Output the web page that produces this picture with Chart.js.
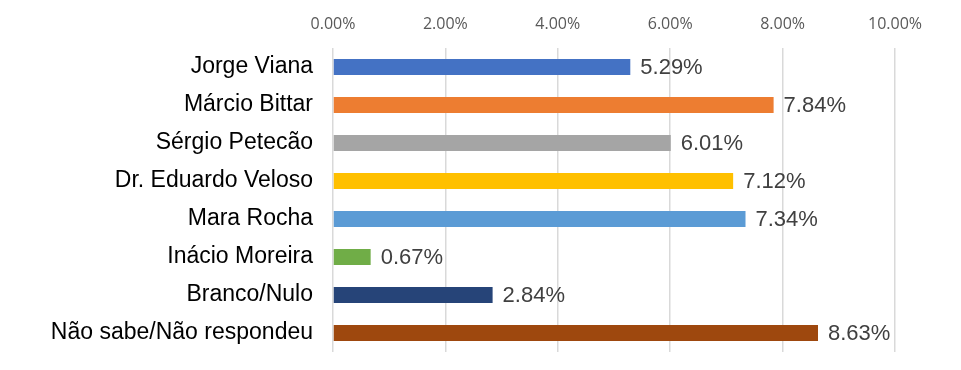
<!DOCTYPE html>
<html>
<head>
<meta charset="utf-8">
<script src="https://cdn.jsdelivr.net/npm/chart.js@4/dist/chart.umd.min.js"></script>
<style>
  html, body { margin: 0; padding: 0; background: #fff; }
  .chartBox { width: 961px; height: 370px; }
</style>
</head>
<body>
<div class="chartBox">
  <canvas id="chart"></canvas>
</div>
<script>
const categories = [
  "Jorge Viana",
  "Márcio Bittar",
  "Sérgio Petecão",
  "Dr. Eduardo Veloso",
  "Mara Rocha",
  "Inácio Moreira",
  "Branco/Nulo",
  "Não sabe/Não respondeu",
];
const values = [5.29, 7.84, 6.01, 7.12, 7.34, 0.67, 2.84, 8.63];
const barColors = [
  "#4472C4",
  "#ED7D31",
  "#A5A5A5",
  "#FFC000",
  "#5B9BD5",
  "#70AD47",
  "#264478",
  "#9E480E",
];
const tickValues = [0, 2, 4, 6, 8, 10];

const fmt = (v) => v.toFixed(2) + "%";

// value labels just past the end of each bar
const barValueLabels = {
  id: "barValueLabels",
  afterDatasetsDraw(chart) {
    const { ctx } = chart;
    ctx.save();
    ctx.font = '22px "Liberation Sans", Arial, sans-serif';
    ctx.fillStyle = "#404040";
    ctx.textAlign = "left";
    ctx.textBaseline = "middle";
    chart.getDatasetMeta(0).data.forEach((bar, i) => {
      ctx.fillText(fmt(chart.data.datasets[0].data[i]), bar.x + 10, bar.y + 1);
    });
    ctx.restore();
  },
};

new Chart(document.getElementById("chart"), {
  type: "bar",
  data: {
    labels: categories,
    datasets: [
      {
        data: values,
        backgroundColor: barColors,
        borderWidth: 0,
        barPercentage: 0.42,
        categoryPercentage: 1,
      },
    ],
  },
  options: {
    indexAxis: "y",
    responsive: true,
    maintainAspectRatio: false,
    animation: false,
    layout: { padding: { left: 0, right: 66, top: 0, bottom: 18 } },
    plugins: {
      legend: { display: false },
      tooltip: { enabled: false },
    },
    scales: {
      x: {
        position: "top",
        min: 0,
        max: 10,
        afterBuildTicks(scale) {
          scale.ticks = tickValues.map((v) => ({ value: v }));
        },
        afterFit(scale) {
          scale.height = 48;
        },
        border: { display: false },
        grid: { color: "#d9d9d9", lineWidth: 1.5, drawTicks: false },
        ticks: {
          padding: 14,
          color: "#595959",
          font: { family: '"Open Sans", sans-serif', size: 16 },
          callback: (v) => fmt(v),
        },
      },
      y: {
        afterFit(scale) {
          scale.width = 333;
          // keep the label half-heights from shrinking the plot area
          scale.paddingTop = 0;
          scale.paddingBottom = 0;
        },
        border: { display: false },
        grid: { display: false },
        ticks: {
          padding: 12,
          color: "#000000",
          font: { family: '"Liberation Sans", Arial, sans-serif', size: 23 },
        },
      },
    },
  },
  plugins: [barValueLabels],
});
</script>
</body>
</html>
